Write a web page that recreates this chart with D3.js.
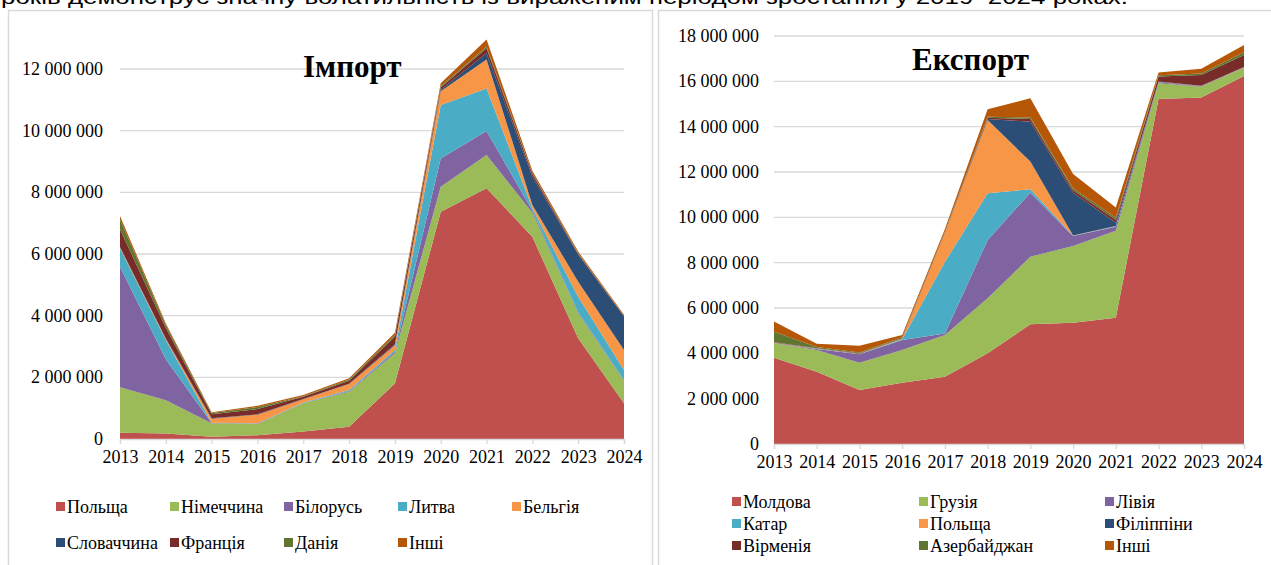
<!DOCTYPE html>
<html>
<head>
<meta charset="utf-8">
<script src="https://cdn.jsdelivr.net/npm/d3@7/dist/d3.min.js"></script>
<style>
  html, body { margin: 0; padding: 0; background: #ffffff; }
  svg { display: block; }
  text { font-family: "Liberation Serif", "Times New Roman", serif; fill: #000; }
</style>
</head>
<body>
<svg id="chart" width="1271" height="565"></svg>
<script>
// ---------- DATA ----------
const years = [2013, 2014, 2015, 2016, 2017, 2018, 2019, 2020, 2021, 2022, 2023, 2024];

// Import (stack order bottom -> top)
const importCountries = ["Польща", "Німеччина", "Білорусь", "Литва", "Бельгія", "Словаччина", "Франція", "Данія", "Інші"];
const impPoland    = [200000, 180000, 70000, 120000, 240000, 400000, 1800000, 7370000, 8130000, 6560000, 3270000, 1160000];
const impGermany   = [1480000, 1080000, 440000, 370000, 920000, 1130000, 980000, 810000, 1080000, 780000, 810000, 730000];
const impBelarus   = [3910000, 1330000, 10000, 10000, 10000, 30000, 50000, 920000, 780000, 60000, 30000, 20000];
const impLithuania = [590000, 620000, 10000, 10000, 10000, 30000, 60000, 1730000, 1380000, 80000, 500000, 330000];
const impBelgium   = [30000, 30000, 130000, 280000, 110000, 190000, 150000, 450000, 940000, 110000, 490000, 650000];
const impSlovakia  = [20000, 20000, 10000, 10000, 10000, 10000, 30000, 50000, 200000, 920000, 880000, 1080000];
const impFrance    = [570000, 340000, 130000, 170000, 70000, 100000, 250000, 70000, 160000, 90000, 30000, 20000];
const impDenmark   = [320000, 100000, 40000, 70000, 20000, 40000, 50000, 40000, 50000, 30000, 20000, 10000];
const impOther     = [110000, 50000, 30000, 40000, 40000, 40000, 80000, 100000, 240000, 70000, 50000, 30000];
const importTicks  = [0, 2000000, 4000000, 6000000, 8000000, 10000000, 12000000];

// Export (stack order bottom -> top)
const exportCountries = ["Молдова", "Грузія", "Лівія", "Катар", "Польща", "Філіппіни", "Вірменія", "Азербайджан", "Інші"];
const expMoldova     = [3810000, 3190000, 2380000, 2700000, 2970000, 4000000, 5280000, 5350000, 5570000, 15220000, 15290000, 16240000];
const expGeorgia     = [630000, 960000, 1210000, 1450000, 1840000, 2430000, 2980000, 3390000, 3840000, 690000, 470000, 360000];
const expLibya       = [20000, 40000, 370000, 440000, 70000, 2570000, 2830000, 440000, 180000, 50000, 20000, 10000];
const expQatar       = [0, 10000, 10000, 30000, 3160000, 2060000, 150000, 10000, 20000, 0, 0, 0];
const expPoland      = [10000, 10000, 10000, 20000, 1280000, 3230000, 1220000, 10000, 10000, 10000, 10000, 10000];
const expPhilippines = [0, 0, 0, 0, 10000, 50000, 1760000, 1890000, 140000, 20000, 10000, 10000];
const expArmenia     = [20000, 10000, 20000, 20000, 20000, 50000, 120000, 110000, 120000, 220000, 480000, 530000];
const expAzerbaijan  = [460000, 60000, 40000, 50000, 20000, 50000, 60000, 80000, 100000, 60000, 70000, 120000];
const expOther       = [450000, 140000, 290000, 100000, 120000, 330000, 850000, 630000, 450000, 120000, 210000, 320000];
const exportTicks    = [0, 2000000, 4000000, 6000000, 8000000, 10000000, 12000000, 14000000, 16000000, 18000000];

const seriesColors = ["#C0504D", "#9BBB59", "#8064A2", "#4BACC6", "#F79646", "#2C4D75", "#772C2A", "#5F7530", "#B65708"];

const headerText = "років демонструє значну волатильність із вираженим періодом зростання у 2019–2024 роках.";

// ---------- BUILD ----------
const svg = d3.select("#chart");
const gridColor = "#D9D9D9";
const fmt = v => d3.format(",")(v).replace(/,/g, " ");

// header line (cut off at top, as in the source page)
svg.append("text")
  .attr("x", 1).attr("y", 4)
  .attr("textLength", 1127).attr("lengthAdjust", "spacingAndGlyphs")
  .style("font-family", "'Liberation Sans', Arial, sans-serif")
  .style("font-size", "20px")
  .text(headerText);

// frames
svg.append("rect").attr("x", 8.5).attr("y", 10.5).attr("width", 644).attr("height", 600)
  .attr("fill", "none").attr("stroke", gridColor).attr("stroke-width", 1.5);
svg.append("rect").attr("x", 658.5).attr("y", 10.5).attr("width", 640).attr("height", 600)
  .attr("fill", "none").attr("stroke", gridColor).attr("stroke-width", 1.5);

function table(seriesArrays, names) {
  return years.map((yr, i) => {
    const row = { year: yr };
    names.forEach((n, k) => { row[n] = seriesArrays[k][i]; });
    return row;
  });
}

function drawChart(cfg) {
  const g = svg.append("g");
  const x = d3.scaleLinear().domain([years[0], years[years.length - 1]]).range([cfg.x0, cfg.x1]);
  const y = d3.scaleLinear().domain([0, cfg.yMax]).range([cfg.yBase, cfg.yTop]);

  // gridlines
  g.selectAll("line.grid").data(cfg.ticks.filter(t => t > 0)).enter().append("line")
    .attr("x1", cfg.x0).attr("x2", cfg.x1)
    .attr("y1", d => y(d)).attr("y2", d => y(d))
    .attr("stroke", gridColor).attr("stroke-width", 1.3);

  // y labels
  g.selectAll("text.ytick").data(cfg.ticks).enter().append("text")
    .attr("x", cfg.labelRight).attr("y", d => y(d) + 6)
    .attr("text-anchor", "end")
    .style("font-size", "18px")
    .text(d => fmt(d));

  // stacked areas
  const rows = table(cfg.series, cfg.names);
  const stacked = d3.stack().keys(cfg.names)(rows);
  const area = d3.area()
    .x((d, i) => x(years[i]))
    .y0(d => y(d[0]))
    .y1(d => y(d[1]));
  g.selectAll("path.area").data(stacked).enter().append("path")
    .attr("d", area)
    .attr("fill", (d, i) => seriesColors[i])
    .attr("stroke", "none");

  // x axis
  const xAxis = d3.axisBottom(x).tickValues(years).tickFormat(d3.format("d")).tickSize(5).tickPadding(6);
  const ax = g.append("g").attr("transform", `translate(0,${cfg.yBase})`).call(xAxis);
  ax.select(".domain").attr("stroke", gridColor).attr("stroke-width", 1.3);
  ax.selectAll(".tick line").attr("stroke", gridColor).attr("stroke-width", 1.3);
  ax.selectAll(".tick text")
    .style("font-family", "'Liberation Serif', 'Times New Roman', serif")
    .style("font-size", "18px").attr("fill", "#000");

  // title
  g.append("text").attr("x", cfg.titleX).attr("y", cfg.titleY)
    .style("font-size", "31px").style("font-weight", "bold")
    .text(cfg.title);

  // legend
  cfg.names.forEach((n, i) => {
    const col = i % cfg.legendCols, row = Math.floor(i / cfg.legendCols);
    const lx = cfg.legendX[col], ly = cfg.legendY + row * cfg.legendDy;
    g.append("rect").attr("x", lx).attr("y", ly - 5).attr("width", 9).attr("height", 9)
      .attr("fill", seriesColors[i]);
    g.append("text").attr("x", lx + 11).attr("y", ly + 6)
      .style("font-size", "18px").text(n);
  });
}

drawChart({
  title: "Імпорт", titleX: 303, titleY: 77,
  series: [impPoland, impGermany, impBelarus, impLithuania, impBelgium, impSlovakia, impFrance, impDenmark, impOther],
  names: importCountries,
  ticks: importTicks, yMax: 12000000,
  x0: 120, x1: 624, yBase: 439, yTop: 69, labelRight: 103,
  legendCols: 5, legendX: [56, 170, 284, 398, 512], legendY: 507, legendDy: 36
});

drawChart({
  title: "Експорт", titleX: 912, titleY: 70,
  series: [expMoldova, expGeorgia, expLibya, expQatar, expPoland, expPhilippines, expArmenia, expAzerbaijan, expOther],
  names: exportCountries,
  ticks: exportTicks, yMax: 18000000,
  x0: 774, x1: 1244, yBase: 444, yTop: 36, labelRight: 759,
  legendCols: 3, legendX: [732, 919, 1105], legendY: 502, legendDy: 22
});
</script>
</body>
</html>
